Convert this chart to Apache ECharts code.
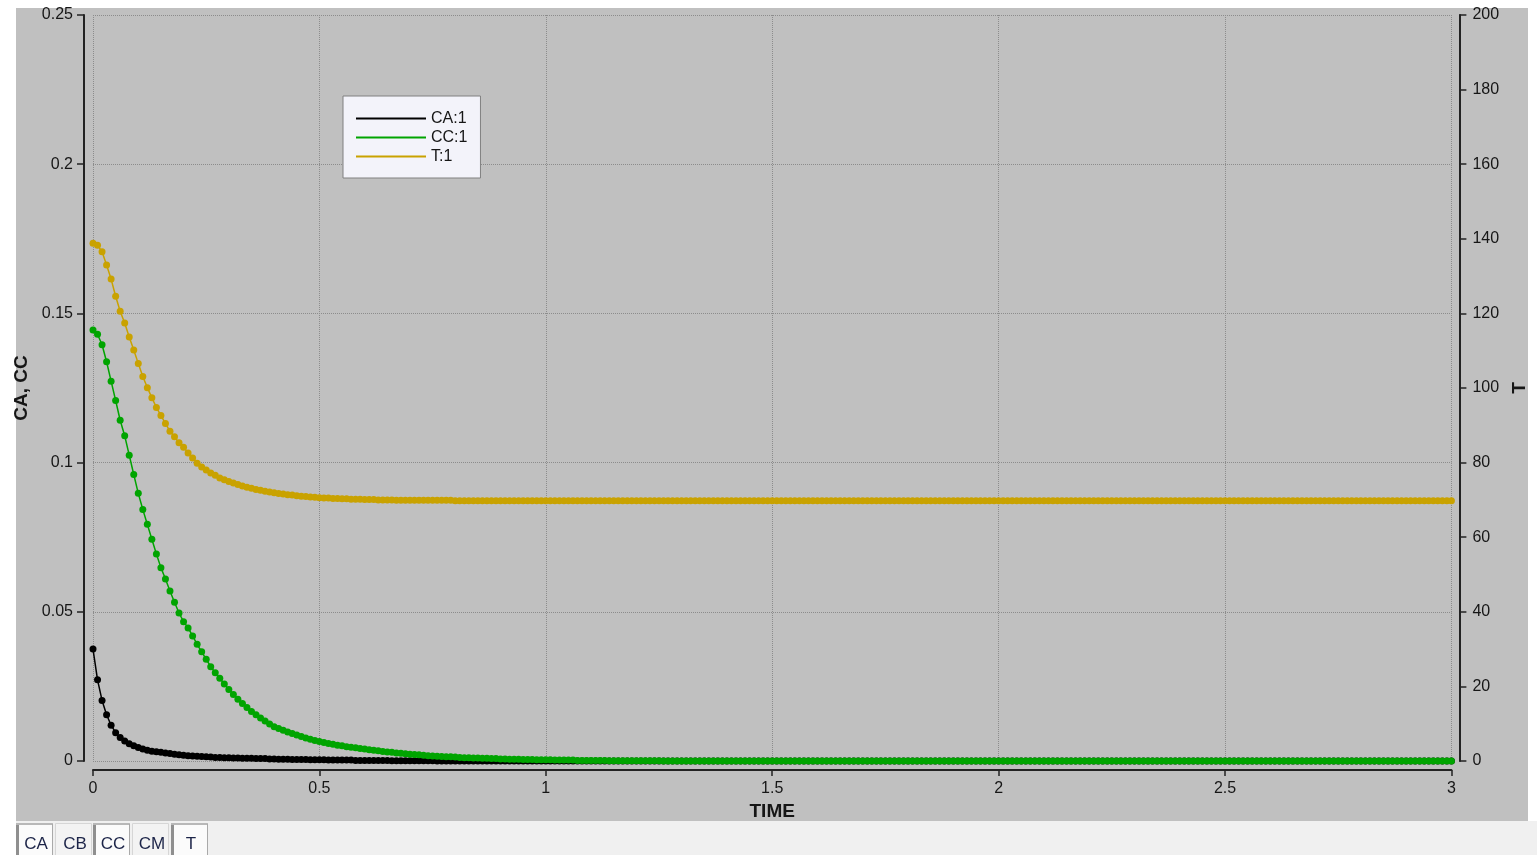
<!DOCTYPE html>
<html>
<head>
<meta charset="utf-8">
<title>CA, CC, T vs TIME</title>
<script src="https://cdn.jsdelivr.net/npm/echarts@6.0.0/dist/echarts.min.js"></script>
<style>
  html, body { margin: 0; padding: 0; background: #ffffff; }
  #chart { width: 1537px; height: 855px; }
</style>
</head>
<body>
<div id="chart"></div>
<script>
// Sample times of the simulation run
const TIME = [
  0,0.01,0.02,0.03,0.04,0.05,0.06,0.07,0.08,0.09,
  0.1,0.11,0.12,0.13,0.14,0.15,0.16,0.17,0.18,0.19,
  0.2,0.21,0.22,0.23,0.24,0.25,0.26,0.27,0.28,0.29,
  0.3,0.31,0.32,0.33,0.34,0.35,0.36,0.37,0.38,0.39,
  0.4,0.41,0.42,0.43,0.44,0.45,0.46,0.47,0.48,0.49,
  0.5,0.51,0.52,0.53,0.54,0.55,0.56,0.57,0.58,0.59,
  0.6,0.61,0.62,0.63,0.64,0.65,0.66,0.67,0.68,0.69,
  0.7,0.71,0.72,0.73,0.74,0.75,0.76,0.77,0.78,0.79,
  0.8,0.81,0.82,0.83,0.84,0.85,0.86,0.87,0.88,0.89,
  0.9,0.91,0.92,0.93,0.94,0.95,0.96,0.97,0.98,0.99,
  1,1.01,1.02,1.03,1.04,1.05,1.06,1.07,1.08,1.09,
  1.1,1.11,1.12,1.13,1.14,1.15,1.16,1.17,1.18,1.19,
  1.2,1.21,1.22,1.23,1.24,1.25,1.26,1.27,1.28,1.29,
  1.3,1.31,1.32,1.33,1.34,1.35,1.36,1.37,1.38,1.39,
  1.4,1.41,1.42,1.43,1.44,1.45,1.46,1.47,1.48,1.49,
  1.5,1.51,1.52,1.53,1.54,1.55,1.56,1.57,1.58,1.59,
  1.6,1.61,1.62,1.63,1.64,1.65,1.66,1.67,1.68,1.69,
  1.7,1.71,1.72,1.73,1.74,1.75,1.76,1.77,1.78,1.79,
  1.8,1.81,1.82,1.83,1.84,1.85,1.86,1.87,1.88,1.89,
  1.9,1.91,1.92,1.93,1.94,1.95,1.96,1.97,1.98,1.99,
  2,2.01,2.02,2.03,2.04,2.05,2.06,2.07,2.08,2.09,
  2.1,2.11,2.12,2.13,2.14,2.15,2.16,2.17,2.18,2.19,
  2.2,2.21,2.22,2.23,2.24,2.25,2.26,2.27,2.28,2.29,
  2.3,2.31,2.32,2.33,2.34,2.35,2.36,2.37,2.38,2.39,
  2.4,2.41,2.42,2.43,2.44,2.45,2.46,2.47,2.48,2.49,
  2.5,2.51,2.52,2.53,2.54,2.55,2.56,2.57,2.58,2.59,
  2.6,2.61,2.62,2.63,2.64,2.65,2.66,2.67,2.68,2.69,
  2.7,2.71,2.72,2.73,2.74,2.75,2.76,2.77,2.78,2.79,
  2.8,2.81,2.82,2.83,2.84,2.85,2.86,2.87,2.88,2.89,
  2.9,2.91,2.92,2.93,2.94,2.95,2.96,2.97,2.98,2.99,
  3
];

// Concentration of A
const CA = [
  0.0375,0.0272,0.0203,0.0155,0.0120,0.0095,0.0079,0.0067,0.0058,0.0051,
  0.0045,0.0040,0.0036,0.0033,0.0031,0.0029,0.0027,0.0025,0.0023,0.0021,
  0.0019,0.0018,0.0017,0.0016,0.0015,0.0014,0.0013,0.0012,0.0012,0.0011,
  0.0011,0.0010,0.0010,0.0009,0.0009,0.0009,0.0008,0.0008,0.0008,0.0007,
  0.0007,0.0006,0.0006,0.0006,0.0005,0.0005,0.0005,0.0005,0.0004,0.0004,
  0.0004,0.0004,0.0003,0.0003,0.0003,0.0003,0.0003,0.0003,0.0002,0.0002,
  0.0002,0.0002,0.0002,0.0002,0.0002,0.0002,0.0001,0.0001,0.0001,0.0001,
  0.0001,0.0001,0.0001,0.0001,0.0001,0.0001,0,0,0,0,
  0,0,0,0,0,0,0,0,0,0,
  0,0,0,0,0,0,0,0,0,0,
  0,0,0,0,0,0,0,0,0,0,
  0,0,0,0,0,0,0,0,0,0,
  0,0,0,0,0,0,0,0,0,0,
  0,0,0,0,0,0,0,0,0,0,
  0,0,0,0,0,0,0,0,0,0,
  0,0,0,0,0,0,0,0,0,0,
  0,0,0,0,0,0,0,0,0,0,
  0,0,0,0,0,0,0,0,0,0,
  0,0,0,0,0,0,0,0,0,0,
  0,0,0,0,0,0,0,0,0,0,
  0,0,0,0,0,0,0,0,0,0,
  0,0,0,0,0,0,0,0,0,0,
  0,0,0,0,0,0,0,0,0,0,
  0,0,0,0,0,0,0,0,0,0,
  0,0,0,0,0,0,0,0,0,0,
  0,0,0,0,0,0,0,0,0,0,
  0,0,0,0,0,0,0,0,0,0,
  0,0,0,0,0,0,0,0,0,0,
  0,0,0,0,0,0,0,0,0,0,
  0,0,0,0,0,0,0,0,0,0,
  0,0,0,0,0,0,0,0,0,0,
  0,0,0,0,0,0,0,0,0,0,
  0
];

// Concentration of C
const CC = [
  0.1444,0.1430,0.1395,0.1338,0.1273,0.1208,0.1142,0.1090,0.1025,0.0960,
  0.0897,0.0843,0.0793,0.0743,0.0694,0.0648,0.0610,0.0570,0.0532,0.0496,
  0.0467,0.0446,0.0419,0.0391,0.0366,0.0341,0.0316,0.0296,0.0277,0.0258,
  0.0240,0.0223,0.0207,0.0193,0.0179,0.0166,0.0155,0.0144,0.0134,0.0124,
  0.0115,0.0109,0.0103,0.0097,0.0092,0.0087,0.0082,0.0077,0.0073,0.0069,
  0.0065,0.0062,0.0059,0.0056,0.0053,0.0051,0.0048,0.0046,0.0044,0.0042,
  0.0040,0.0038,0.0036,0.0034,0.0032,0.0030,0.0029,0.0027,0.0026,0.0024,
  0.0023,0.0022,0.0021,0.0019,0.0018,0.0017,0.0016,0.0015,0.0014,0.0014,
  0.0013,0.0012,0.0011,0.0011,0.0010,0.0010,0.0009,0.0009,0.0008,0.0008,
  0.0007,0.0007,0.0006,0.0006,0.0006,0.0005,0.0005,0.0005,0.0004,0.0004,
  0.0004,0.0004,0.0003,0.0003,0.0003,0.0003,0.0003,0.0002,0.0002,0.0002,
  0.0002,0.0002,0.0002,0.0002,0.0001,0.0001,0.0001,0.0001,0.0001,0.0001,
  0.0001,0.0001,0.0001,0.0001,0.0001,0.0001,0,0,0,0,
  0,0,0,0,0,0,0,0,0,0,
  0,0,0,0,0,0,0,0,0,0,
  0,0,0,0,0,0,0,0,0,0,
  0,0,0,0,0,0,0,0,0,0,
  0,0,0,0,0,0,0,0,0,0,
  0,0,0,0,0,0,0,0,0,0,
  0,0,0,0,0,0,0,0,0,0,
  0,0,0,0,0,0,0,0,0,0,
  0,0,0,0,0,0,0,0,0,0,
  0,0,0,0,0,0,0,0,0,0,
  0,0,0,0,0,0,0,0,0,0,
  0,0,0,0,0,0,0,0,0,0,
  0,0,0,0,0,0,0,0,0,0,
  0,0,0,0,0,0,0,0,0,0,
  0,0,0,0,0,0,0,0,0,0,
  0,0,0,0,0,0,0,0,0,0,
  0,0,0,0,0,0,0,0,0,0,
  0
];

// Reactor temperature
const T = [
  138.8,138.3,136.5,133.0,129.2,124.6,120.6,117.4,113.7,110.2,
  106.6,103.1,100.1,97.4,94.8,92.6,90.5,88.4,86.9,85.3,
  84.1,82.6,81.2,79.8,78.8,78.0,77.2,76.6,75.9,75.4,
  74.9,74.5,74.1,73.7,73.4,73.1,72.8,72.6,72.3,72.1,
  71.9,71.7,71.6,71.4,71.3,71.1,71.0,70.9,70.8,70.7,
  70.6,70.5,70.5,70.4,70.4,70.3,70.3,70.2,70.2,70.2,
  70.1,70.1,70.1,70.0,70.0,70.0,70.0,69.9,69.9,69.9,
  69.9,69.9,69.9,69.9,69.9,69.9,69.9,69.9,69.9,69.9,
  69.8,69.8,69.8,69.8,69.8,69.8,69.8,69.8,69.8,69.8,
  69.8,69.8,69.8,69.8,69.8,69.8,69.8,69.8,69.8,69.8,
  69.8,69.8,69.8,69.8,69.8,69.8,69.8,69.8,69.8,69.8,
  69.8,69.8,69.8,69.8,69.8,69.8,69.8,69.8,69.8,69.8,
  69.8,69.8,69.8,69.8,69.8,69.8,69.8,69.8,69.8,69.8,
  69.8,69.8,69.8,69.8,69.8,69.8,69.8,69.8,69.8,69.8,
  69.8,69.8,69.8,69.8,69.8,69.8,69.8,69.8,69.8,69.8,
  69.8,69.8,69.8,69.8,69.8,69.8,69.8,69.8,69.8,69.8,
  69.8,69.8,69.8,69.8,69.8,69.8,69.8,69.8,69.8,69.8,
  69.8,69.8,69.8,69.8,69.8,69.8,69.8,69.8,69.8,69.8,
  69.8,69.8,69.8,69.8,69.8,69.8,69.8,69.8,69.8,69.8,
  69.8,69.8,69.8,69.8,69.8,69.8,69.8,69.8,69.8,69.8,
  69.8,69.8,69.8,69.8,69.8,69.8,69.8,69.8,69.8,69.8,
  69.8,69.8,69.8,69.8,69.8,69.8,69.8,69.8,69.8,69.8,
  69.8,69.8,69.8,69.8,69.8,69.8,69.8,69.8,69.8,69.8,
  69.8,69.8,69.8,69.8,69.8,69.8,69.8,69.8,69.8,69.8,
  69.8,69.8,69.8,69.8,69.8,69.8,69.8,69.8,69.8,69.8,
  69.8,69.8,69.8,69.8,69.8,69.8,69.8,69.8,69.8,69.8,
  69.8,69.8,69.8,69.8,69.8,69.8,69.8,69.8,69.8,69.8,
  69.8,69.8,69.8,69.8,69.8,69.8,69.8,69.8,69.8,69.8,
  69.8,69.8,69.8,69.8,69.8,69.8,69.8,69.8,69.8,69.8,
  69.8,69.8,69.8,69.8,69.8,69.8,69.8,69.8,69.8,69.8,
  69.8
];

// Series names as listed in the legend
const SERIES_NAMES = ['CA:1', 'CC:1', 'T:1'];

// Variable tabs along the bottom, and which ones are switched on
const TAB_NAMES = ['CA', 'CB', 'CC', 'CM', 'T'];
const TAB_ACTIVE = [true, false, true, false, true];

// Axis ranges
const X_RANGE = { min: 0, max: 3, step: 0.5 };
const YL_RANGE = { min: 0, max: 0.25, step: 0.05 };
const YR_RANGE = { min: 0, max: 200, step: 20 };

// ---------------------------------------------------------------------------
const FONT = "'Liberation Sans', Arial, sans-serif";
const INK = '#161616';
const AXIS_LINE = { show: true, onZero: false, lineStyle: { color: '#222222', width: 2 } };
const GRID_LINE = { show: true, lineStyle: { color: '#8c8c8c', width: 1, type: [1, 1] } };
const COLORS = ['#000000', '#00a400', '#c9a200'];

const pairs = ys => TIME.map((t, i) => [t, ys[i]]);

// bottom tab strip
const TAB_X = [16, 55, 93, 132, 171];
const TAB_W = 36;
const tabElements = [];
TAB_NAMES.forEach((name, i) => {
  const x = TAB_X[i];
  const on = TAB_ACTIVE[i];
  tabElements.push({
    type: 'rect', z: 5,
    shape: { x: x + 0.5, y: 823.5, width: TAB_W, height: 34 },
    style: { fill: on ? '#fbfbfb' : '#f3f3f3', stroke: on ? '#a9a9a9' : '#d6d6d6', lineWidth: 1 }
  });
  if (on) {
    tabElements.push({ type: 'rect', z: 6, shape: { x: x, y: 823, width: 3, height: 32 }, style: { fill: '#8f8f8f' } });
    tabElements.push({ type: 'rect', z: 6, shape: { x: x, y: 823, width: TAB_W, height: 2 }, style: { fill: '#b8b8b8' } });
  }
  tabElements.push({
    type: 'text', z: 7,
    style: {
      text: name, x: x + TAB_W / 2 + 2, y: 844, align: 'center', verticalAlign: 'middle',
      fontSize: 17, fontFamily: FONT, fill: '#1c2448'
    }
  });
});

const chart = echarts.init(document.getElementById('chart'), null, { renderer: 'canvas', width: 1537, height: 855 });

chart.setOption({
  animation: false,
  backgroundColor: '#ffffff',
  textStyle: { fontFamily: FONT },
  graphic: {
    elements: [
      { type: 'rect', z: -100, shape: { x: 16, y: 8, width: 1512, height: 813 }, style: { fill: '#c0c0c0' } },
      { type: 'rect', z: -100, shape: { x: 16, y: 821, width: 1521, height: 34 }, style: { fill: '#f0f0f0' } },
      ...tabElements
    ]
  },
  grid: { left: 93, right: 81, top: 15, bottom: 94, containLabel: false },
  legend: {
    data: SERIES_NAMES,
    orient: 'vertical',
    left: 343, top: 96,
    padding: [13, 13, 12, 13],
    itemGap: 0,
    itemWidth: 70, itemHeight: 2,
    icon: 'rect',
    selectedMode: false,
    backgroundColor: '#f3f3fa',
    borderColor: '#808080', borderWidth: 1,
    textStyle: { fontSize: 16, color: INK, fontFamily: FONT, lineHeight: 19 }
  },
  xAxis: {
    type: 'value',
    min: X_RANGE.min, max: X_RANGE.max, interval: X_RANGE.step,
    position: 'bottom', offset: 9,
    axisLine: AXIS_LINE,
    axisTick: { show: true, length: 6, lineStyle: { color: '#222222', width: 1.5 } },
    axisLabel: { margin: 11, fontSize: 16, color: INK, fontFamily: FONT },
    splitLine: GRID_LINE,
    name: 'TIME', nameLocation: 'middle', nameGap: 28,
    nameTextStyle: { fontSize: 19, fontWeight: 'bold', color: INK, fontFamily: FONT }
  },
  yAxis: [
    {
      type: 'value',
      min: YL_RANGE.min, max: YL_RANGE.max, interval: YL_RANGE.step,
      position: 'left', offset: 9,
      axisLine: AXIS_LINE,
      axisTick: { show: true, length: 7, lineStyle: { color: '#222222', width: 1.5 } },
      axisLabel: { margin: 11, fontSize: 16, color: INK, fontFamily: FONT },
      splitLine: GRID_LINE,
      name: 'CA, CC', nameLocation: 'middle', nameRotate: 90, nameGap: 47,
      nameTextStyle: { fontSize: 19, fontWeight: 'bold', color: INK, fontFamily: FONT }
    },
    {
      type: 'value',
      min: YR_RANGE.min, max: YR_RANGE.max, interval: YR_RANGE.step,
      position: 'right', offset: 8,
      axisLine: AXIS_LINE,
      axisTick: { show: true, length: 7, lineStyle: { color: '#222222', width: 1.5 } },
      axisLabel: { margin: 13, fontSize: 16, color: INK, fontFamily: FONT },
      splitLine: { show: false },
      name: 'T', nameLocation: 'middle', nameRotate: 90, nameGap: 42,
      nameTextStyle: { fontSize: 19, fontWeight: 'bold', color: INK, fontFamily: FONT }
    }
  ],
  series: [
    { name: SERIES_NAMES[0], data: pairs(CA), yAxisIndex: 0, color: COLORS[0] },
    { name: SERIES_NAMES[1], data: pairs(CC), yAxisIndex: 0, color: COLORS[1] },
    { name: SERIES_NAMES[2], data: pairs(T), yAxisIndex: 1, color: COLORS[2] }
  ].map(s => ({
    type: 'line',
    name: s.name,
    data: s.data,
    yAxisIndex: s.yAxisIndex,
    symbol: 'circle',
    symbolSize: 7,
    showSymbol: true,
    clip: false,
    itemStyle: { color: s.color, borderWidth: 0 },
    lineStyle: { color: s.color, width: 1.5 },
    emphasis: { disabled: true }
  }))
});
</script>
</body>
</html>
